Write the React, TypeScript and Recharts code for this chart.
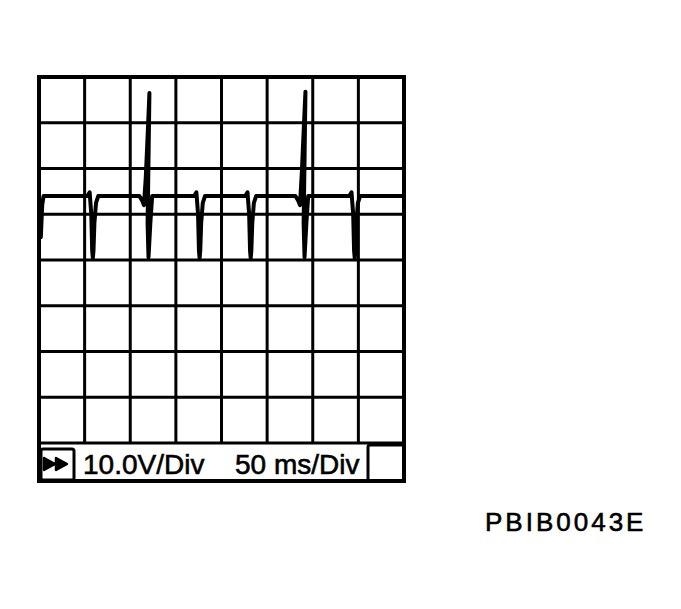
import { LineChart, Line, XAxis, YAxis, CartesianGrid } from 'recharts'

// 50 ms/div across 8 divisions, 10 V/div across 8 divisions
const timeTicks = [0, 50, 100, 150, 200, 250, 300, 350, 400]
const voltTicks = [-40, -30, -20, -10, 0, 10, 20, 30, 40]

const traceTime = [
  2, 3.5, 5,
  53, 55.5, 57.3, 58.3, 59, 59.7, 60.7, 62.5, 65,
  110, 113, 115, 117, 119, 121, 120, 119, 120, 122, 124,
  170, 172.5, 174.3, 175.3, 176, 176.7, 177.7, 179.5, 182,
  226, 228.5, 230.3, 231.3, 232, 232.7, 233.7, 235.5, 238,
  281, 284, 286, 288, 290, 292, 291, 290, 291, 293, 295,
  340, 342.5, 344.3, 345.3, 346, 346.7, 347.7, 349.5, 352,
  400,
]
const traceVolt = [
  5, 12, 14,
  14, 14.8, 10, 2, 0.4, 2, 8, 12.5, 14,
  14, 13, 12, 18, 27, 36.5, 22, 8, 0.6, 8, 14,
  14, 14.8, 10, 2, 0.4, 2, 8, 12.5, 14,
  14, 14.8, 10, 2, 0.4, 2, 8, 12.5, 14,
  14, 13, 12, 19, 28, 36.8, 22, 8, 0.6, 8, 14,
  14, 14.8, 10, 2, 0.4, 2, 8, 12.5, 14,
  14,
]

const chartData = traceTime.map((t, i) => ({ t, v: traceVolt[i] }))

const font = '"Liberation Sans", Arial, sans-serif'

export default function App() {
  return (
    <div style={{ position: 'absolute', left: 0, top: 0, width: 681, height: 609, background: '#fff' }}>
      <LineChart
        width={681}
        height={609}
        data={chartData}
        margin={{ top: 77, right: 277, left: 39, bottom: 166 }}
      >
        <XAxis dataKey="t" type="number" domain={[0, 400]} ticks={timeTicks} hide />
        <YAxis type="number" domain={[-40, 40]} ticks={voltTicks} hide />
        <CartesianGrid stroke="#000" strokeWidth={3} strokeOpacity={1} />
        <Line
          type="linear"
          dataKey="v"
          stroke="#000"
          strokeWidth={4}
          strokeLinejoin="round"
          strokeLinecap="round"
          dot={false}
          isAnimationActive={false}
        />
      </LineChart>
      <svg width={681} height={609} style={{ position: 'absolute', left: 0, top: 0 }}>
        <rect x={39} y={77} width={365} height={404} fill="none" stroke="#000" strokeWidth={4} />
        <rect x={41} y={449} width={33} height={31} rx={2} fill="none" stroke="#000" strokeWidth={3} />
        <path d="M44 458 L55 464 L44 470 Z M56 458 L67 464 L56 470 Z" fill="#000" stroke="#000" strokeWidth={2.5} strokeLinejoin="round" />
        <text x={83} y={474} fontFamily={font} fontSize={28} fill="#000" stroke="#000" strokeWidth={0.6}>10.0V/Div</text>
        <text x={235} y={474} fontFamily={font} fontSize={28} fill="#000" stroke="#000" strokeWidth={0.6}>50 ms/Div</text>
        <rect x={368} y={445} width={36} height={36} rx={2} fill="none" stroke="#000" strokeWidth={3} />
        <text x={485} y={531} fontFamily={font} fontSize={26} letterSpacing={3} fill="#000" stroke="#000" strokeWidth={0.6}>PBIB0043E</text>
      </svg>
    </div>
  )
}
